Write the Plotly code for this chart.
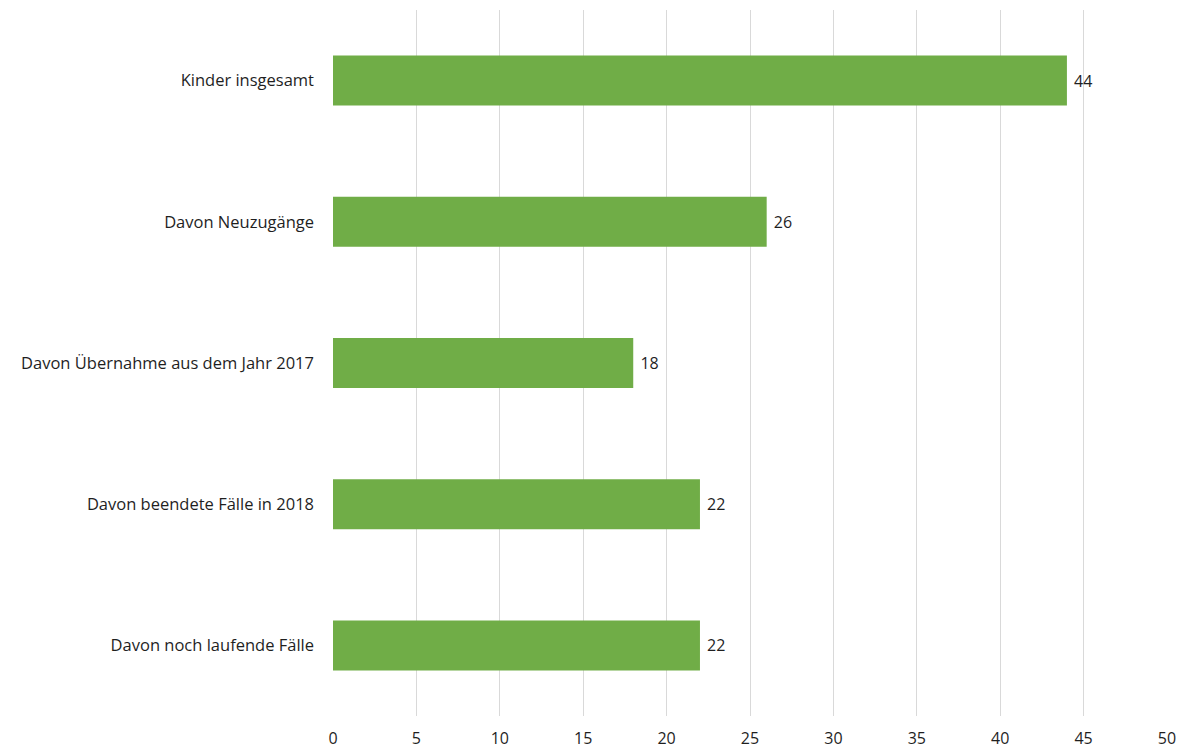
import plotly.graph_objects as go

# Fallzahlen 2018
kategorien = [
    "Kinder insgesamt",
    "Davon Neuzugänge",
    "Davon Übernahme aus dem Jahr 2017",
    "Davon beendete Fälle in 2018",
    "Davon noch laufende Fälle",
]
anzahl = [44, 26, 18, 22, 22]
x_ticks = [0, 5, 10, 15, 20, 25, 30, 35, 40, 45, 50]

FONT = "'Open Sans', sans-serif"
TEXT_COLOR = "#1f1f1f"

fig = go.Figure(
    go.Bar(
        x=anzahl,
        y=kategorien,
        orientation="h",
        marker=dict(color="#70AD47", line=dict(width=0)),
        # value label sits a little to the right of the bar end
        text=["\u00a0" + str(v) for v in anzahl],
        textposition="outside",
        textfont=dict(family=FONT, size=16, color=TEXT_COLOR),
        cliponaxis=False,
    )
)

fig.update_layout(
    width=1182,
    height=751,
    margin=dict(l=333, r=15, t=10, b=35),
    paper_bgcolor="white",
    plot_bgcolor="white",
    bargap=0.646,
    showlegend=False,
    font=dict(family=FONT, size=16, color=TEXT_COLOR),
    xaxis=dict(
        range=[0, 50],
        tickvals=x_ticks,
        ticktext=[str(t) for t in x_ticks],
        showgrid=True,
        gridcolor="#D9D9D9",
        gridwidth=1,
        zeroline=False,
        showline=False,
        ticks="",
        automargin=False,
        ticklabelstandoff=11,
        tickfont=dict(family=FONT, size=16, color=TEXT_COLOR),
    ),
    yaxis=dict(
        autorange="reversed",
        showgrid=False,
        zeroline=False,
        showline=False,
        ticks="",
        automargin=False,
        ticklabelstandoff=18,
        tickfont=dict(family=FONT, size=16.5, color=TEXT_COLOR),
    ),
)

fig.write_html("out.html")
